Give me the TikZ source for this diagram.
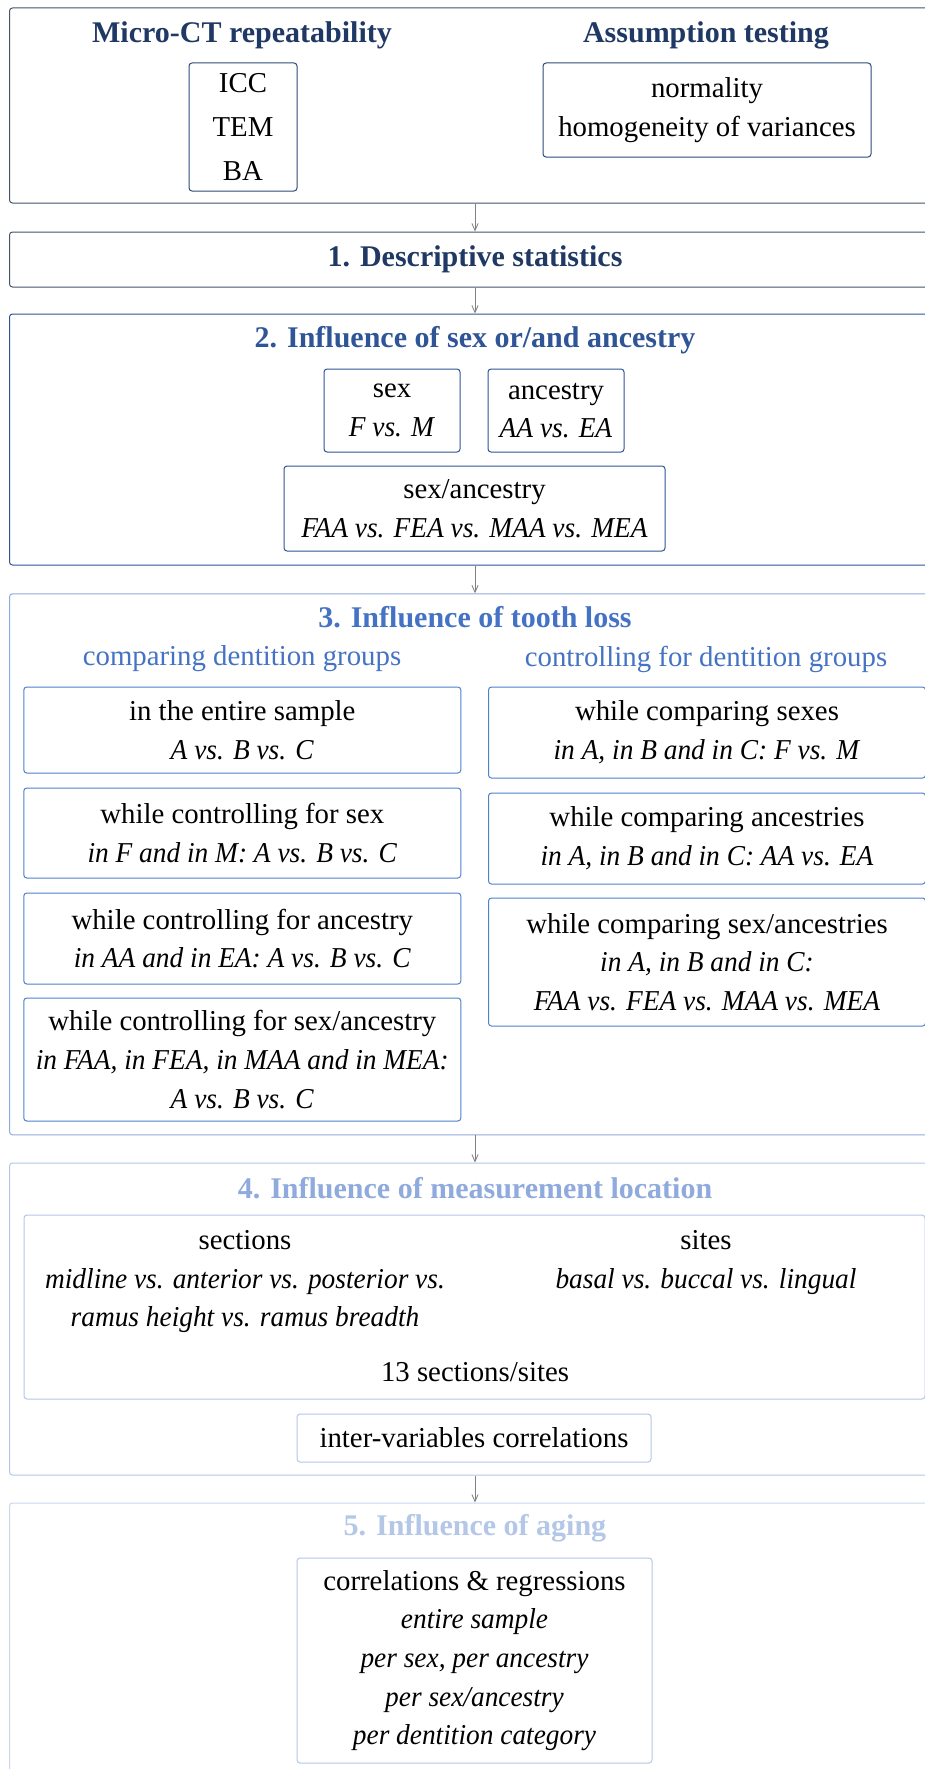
\documentclass[tikz,border=0pt]{standalone}
\usepackage{fontspec}
\setmainfont{Liberation Serif}[ItalicFeatures={FakeStretch=0.95}]
\usepackage{tikz}
\usetikzlibrary{arrows.meta,positioning}
\definecolor{navytext}{HTML}{1F3864}
\definecolor{navyline}{HTML}{44546A}
\definecolor{navybox}{HTML}{2F4B7C}
\definecolor{sexblue}{HTML}{2F5597}
\definecolor{toothblue}{HTML}{4472C4}
\definecolor{toothline}{HTML}{8FAADC}
\definecolor{toothbox}{HTML}{4F81CF}
\definecolor{loctext}{HTML}{8FAADC}
\definecolor{locline}{HTML}{B4C7E7}
\definecolor{agetext}{HTML}{B4C7E7}
\definecolor{ageline}{HTML}{C9D8EF}
\definecolor{arrowgray}{HTML}{808080}
\newcommand{\txtsize}{\fontsize{28.8}{38.6}\selectfont}

\begin{document}
\begin{tikzpicture}[
    x=1pt, y=-1pt,
    stage/.style={draw, rounded corners=3pt, line width=1pt, inner sep=0pt},
    box/.style={draw, rounded corners=3pt, line width=1pt, inner sep=0pt, align=center, font=\txtsize},
    heading/.style={font=\fontsize{30}{36}\selectfont\bfseries},
    txt/.style={align=center, font=\txtsize},
    arrow/.style={-{Straight Barb[length=2.5mm, width=2.2mm]}, draw=arrowgray, line width=0.8pt}
  ]
    \fill[white] (0,0) rectangle (925,1769);
    \useasboundingbox (0,0) rectangle (925,1769);

    % preliminary analyses
    \node[stage, draw=navyline, minimum width=931pt, minimum height=195pt] (prelim) at (475,105.5) {};
    \node[heading, text=navytext] (mct) at (242,35) {Micro-CT repeatability};
    \node[heading, text=navytext] (assump) at (706,35) {Assumption testing};
    \node[box, draw=navybox, minimum width=108pt, minimum height=128pt, font=\fontsize{28.8}{44}\selectfont] (icc) at (243,127) {ICC\\TEM\\BA};
    \node[box, draw=navybox, minimum width=328pt, minimum height=94pt] (norm) at (707,110) {normality\\homogeneity of variances};

    % 1
    \node[stage, heading, draw=navyline, text=navytext, minimum width=931pt, minimum height=55pt] (desc) at (475,259.5) {1. Descriptive statistics};

    % 2
    \node[stage, draw=sexblue, minimum width=931pt, minimum height=251pt] (sexanc) at (475,439.5) {};
    \node[heading, text=sexblue] (sexanct) at (475,340) {2. Influence of sex or/and ancestry};
    \node[box, draw=sexblue, minimum width=136pt, minimum height=83pt] (sex) at (392,410.5) {sex\\\textit{F vs. M}};
    \node[box, draw=sexblue, minimum width=136pt, minimum height=83pt] (anc) at (556,410.5) {ancestry\\\textit{AA vs. EA}};
    \node[box, draw=sexblue, minimum width=381pt, minimum height=85pt] (sexa) at (474.5,508.5) {sex/ancestry\\\textit{FAA vs. FEA vs. MAA vs. MEA}};

    % 3
    \node[stage, draw=toothline, minimum width=931pt, minimum height=541pt] (tooth) at (475,864.3) {};
    \node[heading, text=toothblue] (tootht) at (475,617.5) {3. Influence of tooth loss};
    \node[txt, text=toothblue] (compt) at (242,659) {comparing dentition groups};
    \node[txt, text=toothblue] (contt) at (706,659) {controlling for dentition groups};
    \node[box, draw=toothbox, minimum width=437pt, minimum height=86pt] (entire) at (242.3,730) {in the entire sample\\\textit{A vs. B vs. C}};
    \node[box, draw=toothbox, minimum width=437pt, minimum height=90pt] (ctrlsex) at (242.3,833) {while controlling for sex\\\textit{in F and in M: A vs. B vs. C}};
    \node[box, draw=toothbox, minimum width=437pt, minimum height=91pt] (ctrlanc) at (242.3,938.5) {while controlling for ancestry\\\textit{in AA and in EA: A vs. B vs. C}};
    \node[box, draw=toothbox, minimum width=437pt, minimum height=123pt] (ctrlsa) at (242.3,1059.5) {while controlling for sex/ancestry\\\textit{in FAA, in FEA, in MAA and in MEA:}\\\textit{A vs. B vs. C}};
    \node[box, draw=toothbox, minimum width=437pt, minimum height=91pt] (cmpsex) at (707,732.5) {while comparing sexes\\\textit{in A, in B and in C: F vs. M}};
    \node[box, draw=toothbox, minimum width=437pt, minimum height=91pt] (cmpanc) at (707,838.5) {while comparing ancestries\\\textit{in A, in B and in C: AA vs. EA}};
    \node[box, draw=toothbox, minimum width=437pt, minimum height=128pt] (cmpsa) at (707,962) {while comparing sex/ancestries\\\textit{in A, in B and in C:}\\\textit{FAA vs. FEA vs. MAA vs. MEA}};

    % 4
    \node[stage, draw=locline, minimum width=931pt, minimum height=312pt] (loc) at (475,1319) {};
    \node[heading, text=loctext] (loct) at (475,1188) {4. Influence of measurement location};
    \node[box, draw=locline, minimum width=901pt, minimum height=184pt] (secsites) at (474.5,1307) {};
    \node[txt, anchor=north] (sections) at (245,1227) {sections\\\textit{midline vs. anterior vs. posterior vs.}\\\textit{ramus height vs. ramus breadth}};
    \node[txt, anchor=north] (sites) at (706,1227) {sites\\\textit{basal vs. buccal vs. lingual}};
    \node[txt] (thirteen) at (475,1372) {13 sections/sites};
    \node[box, draw=locline, minimum width=354pt, minimum height=48pt] (intervar) at (474,1438) {inter-variables correlations};

    % 5
    \node[stage, draw=ageline, minimum width=931pt, minimum height=300pt] (aging) at (475,1653) {};
    \node[heading, text=agetext] (agingt) at (475,1528) {5. Influence of aging};
    \node[box, draw=locline, minimum width=355pt, minimum height=205pt] (correg) at (474.5,1660.5) {correlations \& regressions\\\textit{entire sample}\\\textit{per sex, per ancestry}\\\textit{per sex/ancestry}\\\textit{per dentition category}};

    \path[arrow] (prelim) -- (desc);
    \path[arrow] (desc) -- (sexanc);
    \path[arrow] (sexanc) -- (tooth);
    \path[arrow] (tooth) -- (loc);
    \path[arrow] (loc) -- (aging);
  \end{tikzpicture}
\end{document}
